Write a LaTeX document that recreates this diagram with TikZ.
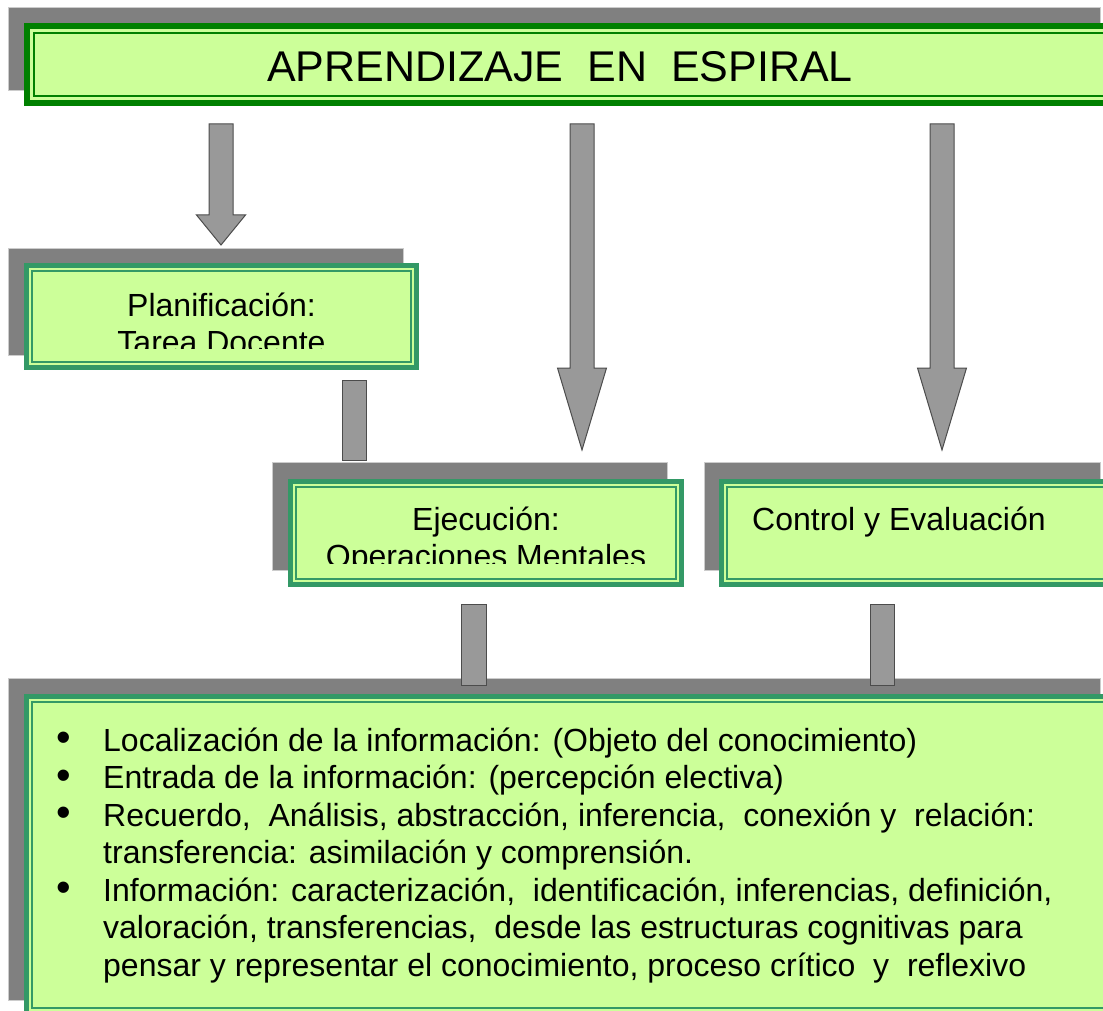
\documentclass[tikz,border=0pt]{standalone}
\usepackage{fontspec}
\setmainfont{Liberation Sans}
\usepackage{tikz}

\definecolor{dkgreen}{RGB}{0,128,0}
\definecolor{seagrn}{RGB}{51,153,102}
\definecolor{paleleaf}{RGB}{204,255,153}

\tikzset{
	shadowrect/.style={fill=gray,draw=gray!40,line width=0.8pt},
	titlebox/.style={draw=dkgreen,line width=6.5pt,fill=paleleaf,inner sep=0pt},
	stepbox/.style={draw=seagrn,line width=5pt,fill=paleleaf,inner sep=0pt},
	trimline/.style={line width=1.8pt},
	blockarrow/.style={fill=gray!80,draw=black!70,line width=1pt},
	boxtext/.style={font=\fontsize{32}{37}\selectfont,inner sep=0pt,align=center}
}

% x, top, start of head, tip
\newcommand{\downblock}[4]{%
	\draw[blockarrow] (#1-12,#2)--(#1+12,#2)--(#1+12,#3)--(#1+24.5,#3)
		--(#1,#4)--(#1-24.5,#3)--(#1-12,#3)--cycle;}
\newcommand{\bul}{\makebox[47pt][l]{\raisebox{-0.5pt}{\scalebox{1.3}{\textbullet}}}}

\begin{document}
\begin{tikzpicture}[x=1pt,y=-1pt]
	\useasboundingbox (0,0) rectangle (1103,1011);
	% shadows
	\draw [shadowrect](8,7) rectangle (1100,90);
	\draw [shadowrect](8,248) rectangle (403,355);
	\draw [shadowrect](272,462) rectangle (667,570);
	\draw [shadowrect](704,462) rectangle (1100,570);
	\draw [shadowrect](8,678) rectangle (1100,1000);
	% boxes
	\node at(572,64.5) [titlebox,minimum width=1090,minimum height=77](title){};
	\node at(221.5,316.5) [stepbox,minimum width=390,minimum height=102](plan){};
	\node at(486,533) [stepbox,minimum width=391,minimum height=103](ejec){};
	\node at(917.5,533) [stepbox,minimum width=392,minimum height=103](ctrl){};
	\node at(570,855) [stepbox,minimum width=1087,minimum height=317](facts){};
	\draw [dkgreen,trimline]([shift={(10,10)}]title.north west) rectangle ([shift={(-10,-10)}]title.south east);
	\foreach \b in{plan,ejec,ctrl,facts}
		\draw [seagrn,trimline]([shift={(8.2,8.2)}]\b.north west) rectangle ([shift={(-8.2,-8.2)}]\b.south east);
	% texts
	\node at(560,82) [anchor=base,inner sep=0pt,font=\fontsize{43}{50}\selectfont](titletxt){APRENDIZAJE \ EN \ ESPIRAL};
	\begin{scope}
		\clip ([shift={(10,10)}]plan.north west) rectangle ([shift={(-10,-22)}]plan.south east);
		\node at(221.5,353) [boxtext,anchor=base](plantxt){Planificación:\\Tarea Docente};
	\end{scope}
	\begin{scope}
		\clip ([shift={(10,10)}]ejec.north west) rectangle ([shift={(-10,-24)}]ejec.south east);
		\node at(486,567) [boxtext,anchor=base](ejectxt){Ejecución:\\Operaciones Mentales};
	\end{scope}
	\node at(752,530) [boxtext,anchor=base west](ctrltxt){Control y Evaluación};
	\node at(56,751) [anchor=base west,inner sep=0pt,font=\fontsize{32}{37.5}\selectfont](factstxt){%
		\begin{tabular}[t]{@{}l@{}l@{}}
			\bul & Localización de la información: (Objeto del conocimiento)\\
			\bul & Entrada de la información: (percepción electiva)\\
			\bul & Recuerdo, \ Análisis, abstracción, inferencia, \ conexión y \ relación:\\
			& transferencia: asimilación y comprensión.\\
			\bul & Información: caracterización, \ identificación, inferencias, definición,\\
			& valoración, transferencias, \ desde las estructuras cognitivas para\\
			& pensar y representar el conocimiento, proceso crítico \ y \ reflexivo
		\end{tabular}};
	% arrows
	\downblock{221}{124}{215}{245}
	\downblock{582}{124}{368}{450}
	\downblock{942}{124}{368}{450}
	\draw [blockarrow](342,380) rectangle (366,460);
	\draw [blockarrow](461,604) rectangle (486,685);
	\draw [blockarrow](870,604) rectangle (894,685);
\end{tikzpicture}
\end{document}
